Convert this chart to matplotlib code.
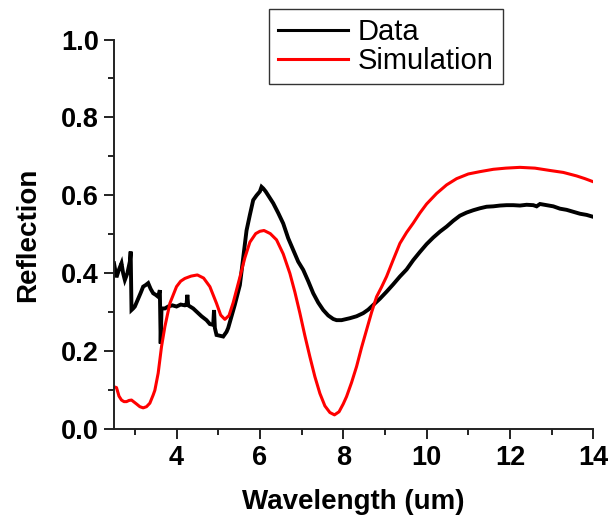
import matplotlib
matplotlib.use("Agg")
import matplotlib.pyplot as plt
from matplotlib.ticker import MultipleLocator

plt.rcParams['font.family'] = ['Liberation Sans', 'DejaVu Sans']

data_x = [2.50, 2.56, 2.62, 2.68, 2.72, 2.76, 2.82, 2.88, 2.90, 2.92, 2.96, 3.00, 3.08, 3.14,
          3.20, 3.26, 3.32, 3.38, 3.44, 3.50, 3.56, 3.60, 3.62, 3.64, 3.72, 3.80, 3.90, 4.00,
          4.10, 4.20, 4.24, 4.26, 4.28, 4.40, 4.50, 4.60, 4.72, 4.80, 4.88, 4.90, 4.92, 4.96,
          5.04, 5.12, 5.20, 5.24, 5.32, 5.40, 5.52, 5.60, 5.68, 5.76, 5.84, 5.92, 6.00, 6.04,
          6.08, 6.14, 6.20, 6.32, 6.44, 6.56, 6.68, 6.80, 6.92, 7.04, 7.16, 7.28, 7.40, 7.52,
          7.64, 7.76, 7.84, 7.96, 8.16, 8.32, 8.48, 8.60, 8.72, 8.88, 9.04, 9.20, 9.36, 9.52,
          9.68, 9.84, 10.00, 10.16, 10.32, 10.48, 10.64, 10.80, 10.96, 11.12, 11.28, 11.44,
          11.60, 11.76, 11.92, 12.08, 12.24, 12.40, 12.56, 12.64, 12.72, 12.88, 13.04, 13.20,
          13.36, 13.52, 13.68, 13.84, 14.00]
data_y = [0.426, 0.390, 0.410, 0.426, 0.400, 0.383, 0.400, 0.430, 0.456, 0.306, 0.310, 0.315,
          0.335, 0.350, 0.366, 0.370, 0.375, 0.360, 0.349, 0.345, 0.340, 0.357, 0.220, 0.310,
          0.310, 0.315, 0.318, 0.315, 0.320, 0.318, 0.320, 0.345, 0.318, 0.310, 0.300, 0.290,
          0.280, 0.270, 0.268, 0.306, 0.260, 0.242, 0.240, 0.238, 0.250, 0.260, 0.290, 0.320,
          0.370, 0.440, 0.510, 0.550, 0.588, 0.600, 0.610, 0.622, 0.618, 0.610, 0.600, 0.580,
          0.555, 0.528, 0.490, 0.460, 0.430, 0.409, 0.380, 0.349, 0.325, 0.306, 0.292, 0.283,
          0.280, 0.280, 0.285, 0.290, 0.298, 0.307, 0.319, 0.335, 0.353, 0.372, 0.392, 0.410,
          0.434, 0.455, 0.475, 0.492, 0.507, 0.520, 0.535, 0.548, 0.556, 0.562, 0.567, 0.571,
          0.572, 0.574, 0.575, 0.575, 0.574, 0.576, 0.575, 0.572, 0.578, 0.575, 0.572, 0.566,
          0.563, 0.558, 0.553, 0.550, 0.545]

sim_x = [2.50, 2.56, 2.62, 2.68, 2.74, 2.80, 2.86, 2.92, 2.98, 3.04, 3.12, 3.20, 3.28, 3.36,
         3.44, 3.48, 3.56, 3.64, 3.72, 3.84, 4.00, 4.10, 4.20, 4.35, 4.50, 4.65, 4.80, 4.96,
         5.06, 5.16, 5.26, 5.36, 5.52, 5.64, 5.76, 5.90, 6.00, 6.10, 6.25, 6.40, 6.56, 6.72,
         6.84, 6.96, 7.08, 7.20, 7.32, 7.44, 7.56, 7.68, 7.79, 7.90, 8.00, 8.08, 8.20, 8.32,
         8.44, 8.56, 8.68, 8.80, 8.92, 9.04, 9.20, 9.36, 9.52, 9.68, 9.84, 10.00, 10.24, 10.48,
         10.72, 11.00, 11.28, 11.60, 11.90, 12.24, 12.60, 12.96, 13.28, 13.60, 13.80, 14.00]
sim_y = [0.109, 0.107, 0.085, 0.075, 0.071, 0.071, 0.074, 0.075, 0.070, 0.065, 0.058, 0.055,
         0.058, 0.067, 0.088, 0.100, 0.144, 0.212, 0.263, 0.323, 0.366, 0.380, 0.387, 0.393,
         0.396, 0.388, 0.366, 0.323, 0.293, 0.282, 0.292, 0.325, 0.390, 0.440, 0.480, 0.502,
         0.508, 0.510, 0.502, 0.486, 0.450, 0.400, 0.352, 0.298, 0.240, 0.186, 0.135, 0.092,
         0.060, 0.043, 0.037, 0.045, 0.065, 0.084, 0.120, 0.161, 0.210, 0.255, 0.300, 0.340,
         0.365, 0.392, 0.435, 0.477, 0.505, 0.529, 0.555, 0.578, 0.605, 0.627, 0.643, 0.655,
         0.661, 0.667, 0.670, 0.672, 0.670, 0.664, 0.659, 0.650, 0.643, 0.635]

x_ticks = [4, 6, 8, 10, 12, 14]
y_ticks = [0.0, 0.2, 0.4, 0.6, 0.8, 1.0]
y_tick_labels = ["0.0", "0.2", "0.4", "0.6", "0.8", "1.0"]

fig = plt.figure(figsize=(6.12, 5.22), dpi=100)
ax = fig.add_axes([114/612, 1-429.3/522, (593.3-114)/612, (429.3-39.5)/522])

ax.plot(data_x, data_y, color='black', lw=2.8, label='Data', solid_joinstyle='miter')
ax.plot(sim_x, sim_y, color='#ff0000', lw=2.2, label='Simulation')

ax.set_xlim(2.5, 14)
ax.set_ylim(0, 1.0)
ax.set_xticks(x_ticks)
ax.set_xticklabels([str(t) for t in x_ticks])
ax.set_yticks(y_ticks)
ax.set_yticklabels(y_tick_labels)
ax.xaxis.set_minor_locator(MultipleLocator(1))
ax.yaxis.set_minor_locator(MultipleLocator(0.1))

for s in ['top', 'right']:
    ax.spines[s].set_visible(False)
for s in ['left', 'bottom']:
    ax.spines[s].set_linewidth(1.4)
    ax.spines[s].set_color('#222222')

ax.tick_params(which='major', direction='out', length=7, width=1.4, pad=4,
               labelsize=19.5, color='#222222')
ax.tick_params(which='minor', direction='out', length=4.5, width=1.4, color='#222222')
for lab in ax.get_xticklabels() + ax.get_yticklabels():
    lab.set_fontweight('bold')

ax.set_xlabel('Wavelength (um)', fontsize=20, fontweight='bold', labelpad=13)
ax.set_ylabel('Reflection', fontsize=20, fontweight='bold', labelpad=14)

leg = ax.legend(loc='upper left', bbox_to_anchor=(269/612, 1-9/522),
                bbox_transform=fig.transFigure, fontsize=21, frameon=True,
                fancybox=False, edgecolor='#333333', framealpha=1,
                handlelength=2.4, handletextpad=0.35, borderpad=0.3,
                labelspacing=0.05, borderaxespad=0)
leg.get_frame().set_linewidth(1.0)
for line in leg.get_lines():
    line.set_linewidth(2.2)

fig.savefig('out.png', dpi=100)
